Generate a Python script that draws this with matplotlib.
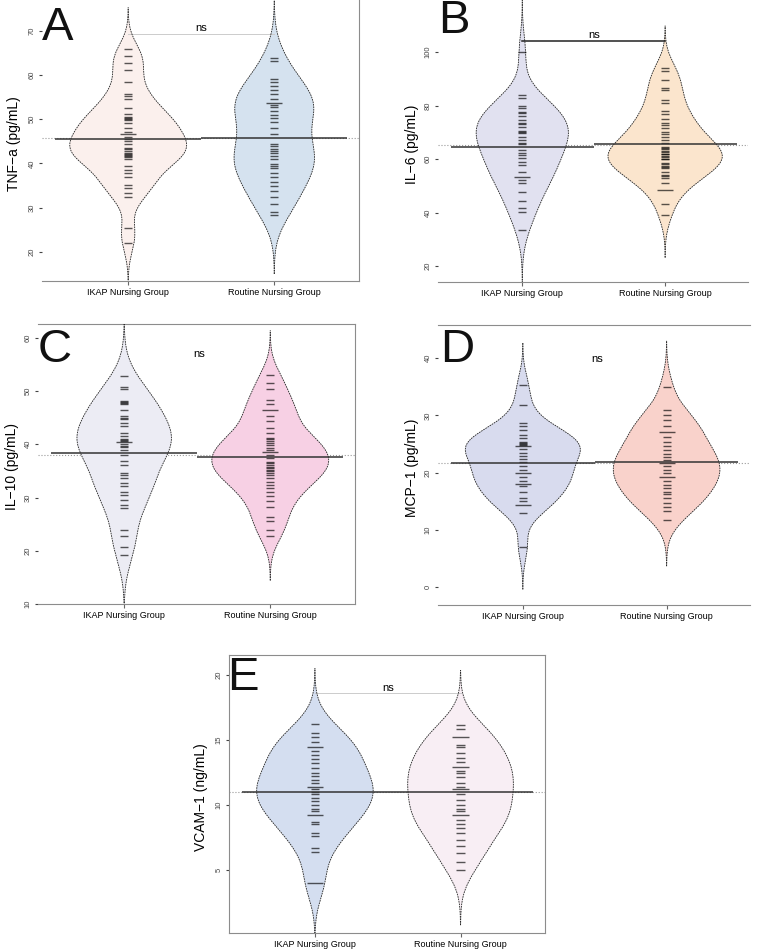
import matplotlib.pyplot as plt
import numpy as np

plt.rcParams['font.family'] = ['Liberation Sans', 'DejaVu Sans']

groups = ['IKAP Nursing Group', 'Routine Nursing Group']

tnf_ikap = [65.8, 64.3, 62.7, 61.2, 58.5, 55.7, 55.2, 54.6, 52.5, 51.2, 50.6, 50.4, 50.0, 49.9,
            49.1, 48.1, 47.1, 46.6, 46.6, 46.0, 45.6, 45.1, 44.3, 43.6, 43.2, 42.8, 42.4, 42.2,
            42.0, 41.8, 41.5, 40.9, 39.4, 38.6, 37.8, 36.9, 35.2, 34.4, 33.4, 32.5, 25.5, 22.0]
tnf_routine = [63.9, 63.3, 59.1, 58.4, 57.5, 56.7, 55.7, 54.6, 53.6, 53.6, 53.2, 52.7, 51.9, 50.9,
               50.4, 49.3, 48.1, 46.6, 44.5, 43.9, 43.3, 42.8, 42.3, 41.7, 40.9, 39.8, 39.4, 39.0,
               37.8, 36.9, 35.9, 34.8, 33.7, 32.5, 30.9, 29.1, 28.4]
il6_ikap = [100.0, 83.8, 82.8, 79.9, 79.0, 77.5, 77.1, 76.1, 74.6, 73.4, 73.0, 72.1, 70.5, 70.0,
            69.6, 68.4, 67.1, 66.0, 65.6, 63.4, 62.4, 61.5, 60.3, 59.0, 57.8, 55.3, 53.4, 53.4,
            52.1, 50.9, 47.8, 44.4, 41.5, 40.3, 33.4]
il6_routine = [94.0, 92.8, 89.4, 86.5, 85.9, 82.1, 80.9, 77.8, 76.9, 74.9, 73.6, 72.8, 71.5, 70.3,
               69.4, 68.1, 67.1, 66.1, 64.6, 64.0, 63.6, 63.0, 62.8, 62.0, 61.9, 61.2, 60.9, 60.2,
               59.9, 58.4, 58.0, 57.5, 57.1, 56.5, 55.3, 54.0, 53.5, 52.8, 50.9, 48.6, 48.6, 43.1,
               39.0]
il10_ikap = [52.8, 50.8, 50.3, 48.1, 48.0, 47.8, 47.6, 46.5, 45.3, 45.0, 44.8, 44.0, 43.5, 42.1,
             41.5, 41.0, 40.9, 40.6, 40.4, 40.4, 40.0, 39.7, 39.5, 38.9, 38.0, 36.8, 36.2, 34.6,
             34.2, 33.7, 32.8, 32.1, 31.0, 30.5, 29.6, 28.6, 28.0, 23.9, 22.7, 20.8, 19.2]
il10_routine = [53.1, 51.5, 50.3, 48.4, 47.5, 46.4, 46.4, 45.3, 44.3, 43.1, 42.1, 41.2, 41.0, 40.6,
                40.2, 39.9, 39.3, 38.9, 38.5, 38.5, 38.0, 37.4, 36.7, 36.5, 36.2, 35.8, 35.5, 35.1,
                34.9, 34.7, 34.3, 33.7, 33.0, 32.4, 31.8, 31.0, 30.2, 29.3, 28.3, 26.4, 25.5, 23.9,
                22.7]
mcp_ikap = [35.3, 31.9, 28.6, 28.1, 27.4, 26.6, 26.0, 25.4, 25.2, 25.0, 24.8, 24.6, 24.6, 24.1,
            23.5, 22.9, 22.4, 21.8, 21.1, 20.5, 19.9, 19.9, 19.3, 18.5, 18.1, 18.1, 17.6, 16.7,
            15.6, 15.1, 14.4, 14.4, 12.9, 7.0]
mcp_routine = [35.0, 31.0, 30.1, 29.2, 28.2, 27.2, 27.2, 26.3, 25.4, 24.6, 23.9, 23.3, 22.8, 22.2,
               21.7, 21.7, 21.1, 20.5, 19.9, 19.3, 19.3, 18.5, 17.9, 17.3, 16.7, 16.3, 15.6, 14.7,
               14.1, 13.4, 11.8]
vcam_ikap = [16.2, 15.5, 15.2, 14.8, 14.4, 14.4, 14.1, 13.8, 13.5, 13.2, 12.8, 12.4, 12.2, 11.9,
             11.7, 11.4, 11.4, 11.2, 11.0, 10.8, 10.5, 10.3, 10.0, 9.7, 9.5, 9.2, 9.2, 8.7, 8.5,
             7.8, 7.6, 6.7, 6.4, 4.0, 4.0]
vcam_routine = [16.1, 15.8, 15.2, 15.2, 14.6, 14.4, 14.0, 13.6, 13.3, 12.9, 12.9, 12.6, 12.4, 12.1,
                11.7, 11.4, 11.2, 11.2, 10.8, 10.4, 10.0, 9.7, 9.5, 9.2, 9.2, 8.8, 8.5, 8.2, 7.8,
                7.3, 6.8, 6.3, 5.6, 5.0]

W, H = 760, 952
fig = plt.figure(figsize=(W / 100, H / 100), dpi=100)


def kde(vals):
    v = np.asarray(vals)
    bw = 1.05 * 0.9 * min(v.std(ddof=1), (np.percentile(v, 75) - np.percentile(v, 25)) / 1.34) * len(v) ** -0.2
    y = np.linspace(v.min() - 3 * bw, v.max() + 3 * bw, 400)
    d = np.exp(-0.5 * ((y[:, None] - v[None, :]) / bw) ** 2).sum(axis=1) / (len(v) * bw)
    return y, d


def beanplot(ax, data, fills):
    dens = [kde(v) for v in data]
    peak = max(d.max() for _, d in dens)
    allv = np.concatenate([np.asarray(v) for v in data])
    ax.axhline(allv.mean(), color='#9a9a9a', lw=0.8, ls=':', zorder=1)   # overall mean
    for i, (vals, (y, d), fc) in enumerate(zip(data, dens, fills)):
        c = i + 1
        w = 0.4 * d / peak
        ax.fill_betweenx(y, c - w, c + w, facecolor=fc, edgecolor='none', zorder=2)
        ax.plot(c - w, y, color='#222222', lw=0.6, ls=(0, (2, 1)), zorder=3)
        ax.plot(c + w, y, color='#222222', lw=0.6, ls=(0, (2, 1)), zorder=3)
        u, cnt = np.unique(np.round(vals, 2), return_counts=True)   # stripes, ties get longer
        ax.hlines(u, c - 0.028 * cnt, c + 0.028 * cnt, color='black', lw=1.0, alpha=0.65, zorder=4)
        ax.hlines(np.mean(vals), c - 0.5, c + 0.5, color='#333333', lw=1.1, zorder=5)   # group mean


def add_axes(px, data, fills, ylabel, ylim, yticks, spines, label_x):
    l, t, r, b = px
    ax = fig.add_axes([l / W, 1 - b / H, (r - l) / W, (b - t) / H])
    beanplot(ax, data, fills)
    ax.set_xlim(0.41, 2.58)
    ax.set_ylim(*ylim)
    ax.set_xticks([1, 2])
    ax.set_xticklabels(groups, fontsize=6.5)
    ax.set_yticks(yticks)
    ax.tick_params(axis='y', labelsize=5.5, length=2.5, pad=2, colors='#444444', labelrotation=90)
    ax.tick_params(axis='x', length=3, pad=2, color='#666666')
    for t_ in ax.get_yticklabels():
        t_.set_va('center')
    ax.set_ylabel(ylabel, fontsize=10)
    ax.yaxis.set_label_coords(label_x, 0.49)
    for s in ax.spines:
        ax.spines[s].set_visible(s in spines)
        ax.spines[s].set_color('#8c8c8c')
        ax.spines[s].set_linewidth(0.8)
    return ax


axA = add_axes((42, 0, 359, 281), [tnf_ikap, tnf_routine], ['#fbf0ed', '#d5e2ef'],
               'TNF−a (pg/mL)', (13.4, 77), [20, 30, 40, 50, 60, 70], ['bottom', 'right'], -0.066)
axA.plot([1, 2], [69.4, 69.4], color='#cccccc', lw=0.7)
axA.text(1.5, 69.9, 'ns', ha='center', va='baseline', fontsize=8)

axB = add_axes((438, 0, 748, 282), [il6_ikap, il6_routine], ['#e1e1f0', '#fbe5cd'],
               'IL−6 (pg/mL)', (14, 119.5), [20, 40, 60, 80, 100], ['bottom'], -0.061)
axB.plot([1, 2], [104.25, 104.25], color='#222222', lw=1.1)
axB.text(1.5, 105.4, 'ns', ha='center', va='baseline', fontsize=8)

axC = add_axes((38, 324, 355, 604), [il10_ikap, il10_routine], ['#ececf4', '#f7d0e4'],
               'IL−10 (pg/mL)', (10, 62.6), [10, 20, 30, 40, 50, 60], ['bottom', 'top', 'right'], -0.06)
axC.text(1.51, 56.4, 'ns', ha='center', va='baseline', fontsize=8)

axD = add_axes((438, 325, 750, 605), [mcp_ikap, mcp_routine], ['#d8dbee', '#f9d2cb'],
               'MCP−1 (pg/mL)', (-3.1, 45.8), [0, 10, 20, 30, 40], ['bottom', 'top'], -0.061)
axD.text(1.52, 39.4, 'ns', ha='center', va='baseline', fontsize=8)

axE = add_axes((229, 655, 545, 933), [vcam_ikap, vcam_routine], ['#d4def0', '#f8eef4'],
               'VCAM−1 (ng/mL)', (0.15, 21.5), [5, 10, 15, 20],
               ['bottom', 'top', 'right', 'left'], -0.066)
axE.plot([1, 2], [18.55, 18.55], color='#cccccc', lw=0.7)
axE.text(1.5, 18.7, 'ns', ha='center', va='baseline', fontsize=8)

# panel letters
for letter, x, y in [('A', 42, 40), ('B', 438, 33), ('C', 38, 362), ('D', 440, 362), ('E', 227, 690)]:
    fig.text(x / W, 1 - y / H, letter, fontsize=34, ha='left', va='baseline', color='#111111')

plt.savefig('out.png', dpi=100)
